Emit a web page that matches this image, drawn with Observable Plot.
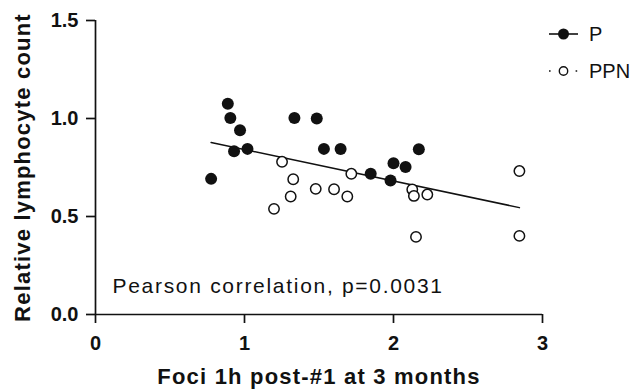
<!DOCTYPE html>
<html>
<head>
<meta charset="utf-8">
<script src="https://cdn.jsdelivr.net/npm/d3@7"></script>
<script src="https://cdn.jsdelivr.net/npm/@observablehq/plot@0.6"></script>
<style>
  html, body { margin: 0; padding: 0; background: #fff; overflow: hidden; }
  #wrap { position: relative; width: 632px; height: 392px; font-family: "Liberation Sans", Arial, sans-serif; }
  #legend { position: absolute; left: 0; top: 0; }
  .title text { letter-spacing: 1.2px; }
  .note text { letter-spacing: 1.7px; }
</style>
</head>
<body>
<div id="wrap"></div>
<script>
// P group (filled circles)
const pX = [0.776, 0.888, 0.905, 0.970, 0.930, 1.020, 1.335, 1.485, 1.533, 1.645, 1.847, 1.980, 2.000, 2.081, 2.170];
const pY = [0.692, 1.075, 1.003, 0.940, 0.833, 0.845, 1.003, 1.000, 0.845, 0.844, 0.718, 0.684, 0.772, 0.752, 0.843];
// PPN group (open circles)
const ppnX = [1.252, 1.327, 1.310, 1.198, 1.478, 1.601, 1.690, 1.717, 2.126, 2.137, 2.227, 2.151, 2.845, 2.845];
const ppnY = [0.779, 0.690, 0.602, 0.539, 0.641, 0.639, 0.602, 0.718, 0.638, 0.605, 0.612, 0.396, 0.732, 0.401];

const xTicks = [0, 1, 2, 3];
const yTicks = [0, 0.5, 1.0, 1.5];
const groups = ["P", "PPN"];
const xTitle = "Foci 1h post-#1 at 3 months";
const yTitle = "Relative lymphocyte count";
const note = "Pearson correlation, p=0.0031";

const P = pX.map((x, i) => ({x, y: pY[i], group: "P"}));
const PPN = ppnX.map((x, i) => ({x, y: ppnY[i], group: "PPN"}));
const all = P.concat(PPN);

const ink = "#111";
const font = "Liberation Sans, Arial, sans-serif";

const chart = Plot.plot({
  width: 632,
  height: 392,
  marginLeft: 95,
  marginRight: 90,
  marginTop: 20,
  marginBottom: 78,
  style: {fontFamily: font, color: ink, background: "white", overflow: "visible"},
  x: {domain: [0, 3]},
  y: {domain: [0, 1.5]},
  marks: [
    Plot.ruleY([0], {x1: 0, x2: 3, stroke: ink, strokeWidth: 1.7}),
    Plot.ruleX([0], {y1: 0, y2: 1.5, stroke: ink, strokeWidth: 1.7}),
    Plot.axisX({ticks: xTicks, tickSize: 9, tickPadding: 12, tickFormat: d3.format("d"),
      fontSize: 20, fontWeight: "bold", stroke: ink, strokeWidth: 1.7, fill: ink, label: null}),
    Plot.axisY({ticks: yTicks, tickSize: 9, tickPadding: 8, tickFormat: d3.format(".1f"),
      fontSize: 20, fontWeight: "bold", stroke: ink, strokeWidth: 1.7, fill: ink, label: null}),
    Plot.text([xTitle], {frameAnchor: "bottom", dy: 62, textAnchor: "middle", lineAnchor: "middle",
      fontSize: 22, fontWeight: "bold", fill: ink, className: "title"}),
    Plot.text([yTitle], {frameAnchor: "left", dx: -73, rotate: -90, textAnchor: "middle", lineAnchor: "middle",
      fontSize: 22, fontWeight: "bold", fill: ink, className: "title"}),
    Plot.text([note], {frameAnchor: "bottom-left", dx: 17, dy: -22, textAnchor: "start",
      lineAnchor: "bottom", fontSize: 21, fill: ink, className: "note"}),
    Plot.linearRegressionY(all, {x: "x", y: "y", ci: 0, stroke: ink, strokeWidth: 1.5}),
    Plot.dot(P, {x: "x", y: "y", r: 6, fill: ink, stroke: "none"}),
    Plot.dot(PPN, {x: "x", y: "y", r: 5.2, fill: "white", stroke: ink, strokeWidth: 1.5})
  ]
});

const wrap = document.getElementById("wrap");
wrap.appendChild(chart);

// Legend in the top-right corner
const leg = d3.select(wrap).append("svg")
  .attr("id", "legend")
  .attr("width", 632).attr("height", 100)
  .style("pointer-events", "none");

groups.forEach((g, i) => {
  const cy = 34 + i * 37;
  const row = leg.append("g");
  if (g === "P") {
    row.append("line").attr("x1", 549).attr("x2", 578).attr("y1", cy).attr("y2", cy)
      .attr("stroke", ink).attr("stroke-width", 1.6);
    row.append("circle").attr("cx", 563.5).attr("cy", cy).attr("r", 5.5).attr("fill", ink);
  } else {
    row.append("line").attr("x1", 549).attr("x2", 578).attr("y1", cy).attr("y2", cy)
      .attr("stroke", ink).attr("stroke-width", 1.6).attr("stroke-dasharray", "1.6 11.7");
    row.append("circle").attr("cx", 563.5).attr("cy", cy).attr("r", 4.2)
      .attr("fill", "white").attr("stroke", ink).attr("stroke-width", 1.4);
  }
  row.append("text").attr("x", 589).attr("y", cy).attr("dy", "0.35em")
    .attr("font-family", font).attr("font-size", 20).attr("fill", ink).text(g);
});
</script>
</body>
</html>
